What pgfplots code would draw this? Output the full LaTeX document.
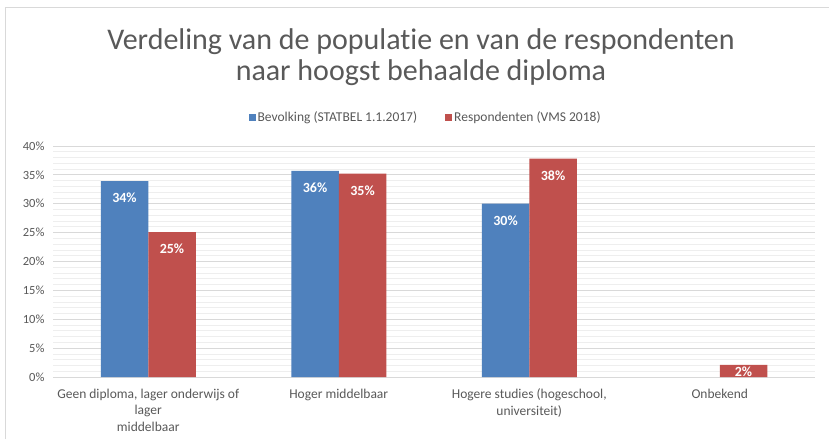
\documentclass[border=0pt]{standalone}
\usepackage{fontspec}
\setmainfont{Carlito}[Ligatures={NoCommon}]
\usepackage{pgfplots}
\pgfplotsset{compat=1.18}
\definecolor{cblue}{HTML}{4F81BD}
\definecolor{cred}{HTML}{C0504D}
\definecolor{txt}{HTML}{595959}
\definecolor{gridc}{HTML}{D9D9D9}
\definecolor{mgrid}{HTML}{EEEEEE}
\begin{document}
\begin{tikzpicture}[x=1pt,y=1pt]
\useasboundingbox (0,0) rectangle (829,439);
\fill[white] (0,0) rectangle (829,439);
\draw[gridc, line width=1pt] (5.5,0) -- (5.5,431) -- (829,431);
\node[font=\fontsize{30}{33}\selectfont, text=txt, anchor=base] at (421,389) {Verdeling van de populatie en van de respondenten};
\node[font=\fontsize{30}{33}\selectfont, text=txt, anchor=base] at (421,358) {naar hoogst behaalde diploma};
\begin{axis}[
  at={(53pt,62pt)}, anchor=south west, scale only axis,
  width=762pt, height=231pt,
  ybar=0pt, bar width=47.5pt,
  xmin=-0.5, xmax=3.5, ymin=0, ymax=40,
  xtick={0,1,2,3},
  xticklabels={{Geen diploma, lager onderwijs of\\lager\\middelbaar},{Hoger middelbaar},{Hogere studies (hogeschool,\\universiteit)},{Onbekend}},
  xticklabel style={align=center, font=\fontsize{13.5}{16.5}\selectfont, text=txt, yshift=-4pt},
  ytick={0,5,...,40},
  minor y tick num=4,
  ymajorgrids, yminorgrids,
  major grid style={gridc, line width=0.8pt},
  minor grid style={mgrid, line width=0.8pt},
  axis line style={draw=none},
  tick style={draw=none},
  /pgf/number format/assume math mode=true,
  yticklabel={\pgfmathprintnumber{\tick}\%},
  yticklabel style={font=\fontsize{12.5}{14}\selectfont, text=txt, xshift=-5pt},
  nodes near coords={\pgfmathprintnumber[fixed,precision=0]{\pgfplotspointmeta}\%},
  visualization depends on={y \as \rawy},
  every node near coord/.append style={font=\bfseries\fontsize{14}{16}\selectfont, text=white, anchor=center, yshift={(\rawy<5 ? -7 : -17)*1pt}},
  legend style={at={(0.489,1.1255)}, anchor=center, draw=none, fill=none, legend columns=2, font=\fontsize{13.5}{15}\selectfont, text=txt, /tikz/every even column/.append style={column sep=26pt}},
  legend image code/.code={\fill[#1] (0pt,-3.5pt) rectangle (7pt,3.5pt);},
]
\addplot[fill=cblue, draw=none] coordinates {(0,33.9) (1,35.7) (2,30.0)};
\addplot[fill=cred, draw=none] coordinates {(0,25.1) (1,35.2) (2,37.8) (3,2.1)};
\legend{Bevolking (STATBEL 1.1.2017), Respondenten (VMS 2018)}
\end{axis}
\end{tikzpicture}
\end{document}
